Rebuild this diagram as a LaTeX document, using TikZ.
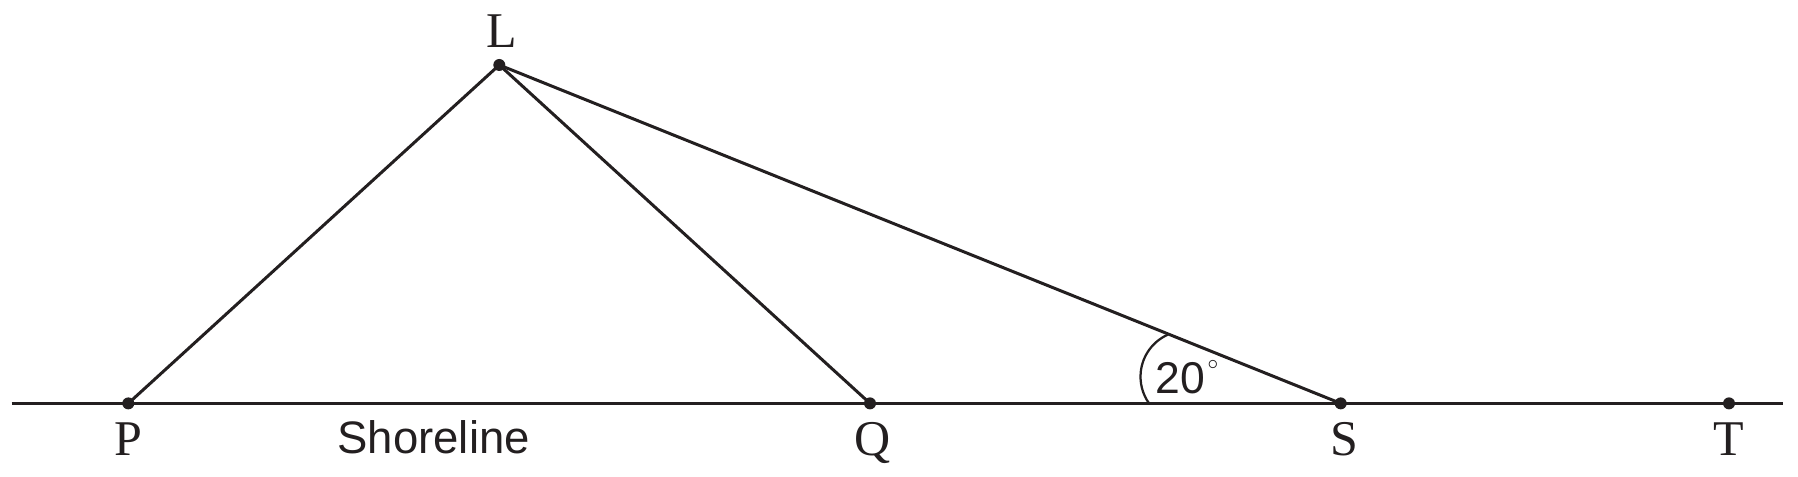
\documentclass[tikz,border=0pt]{standalone}
\usepackage{fontspec}
\setmainfont{Liberation Serif}
\newfontfamily\sansf{Liberation Sans}
\definecolor{ink}{HTML}{231F20}
\begin{document}
\begin{tikzpicture}[x=0.4pt,y=0.4pt,
  pt/.style={circle,fill=ink,inner sep=0pt,minimum size=4.8pt},
  lbl/.style={anchor=base,inner sep=0pt,font=\fontsize{20}{24}\selectfont,text=ink},
  seg/.style={draw=ink,line width=1.2pt},
  shore/.style={draw=ink,line width=1.3pt}]
\useasboundingbox (0,0) rectangle (1798,477);
\coordinate (W) at (11.5,73.6);
\coordinate (E) at (1782.7,73.6);
\node[pt] (L) at (499.3,412) {};
\node[pt] (P) at (128.3,73.6) {};
\node[pt] (Q) at (870,73.6) {};
\node[pt] (S) at (1340.7,73.6) {};
\node[pt] (T) at (1729,73.6) {};
\draw[shore] (W) -- (E);
\draw[seg] (L.center) -- (P.center);
\draw[seg] (L.center) -- (Q.center);
\draw[seg] (L.center) -- (S.center);
\coordinate (arcc) at (1186.5,100.3);
\draw[ink,line width=0.9pt] ([shift={(113.6:46)}]arcc) arc[start angle=113.6,end angle=215.7,radius=46];
\node[lbl] (Ll) at (501.5,429.3) {L};
\node[lbl] (Pl) at (128.5,21.3) {P};
\node[lbl] (Ql) at (873,21.3) {Q};
\node[lbl] (Sl) at (1344,21.3) {S};
\node[lbl] (Tl) at (1729,21.3) {T};
\node[anchor=base west,inner sep=0pt,font=\sansf\fontsize{18.2}{20}\selectfont,text=ink] (sh) at (337,23.7) {Shoreline};
\node[anchor=base west,inner sep=0pt,font=\sansf\fontsize{17.8}{20}\selectfont,text=ink] (ang) at (1155,83) {20\kern1pt\raisebox{9.6pt}{\fontsize{8}{8}\selectfont$\circ$}};
\end{tikzpicture}
\end{document}
